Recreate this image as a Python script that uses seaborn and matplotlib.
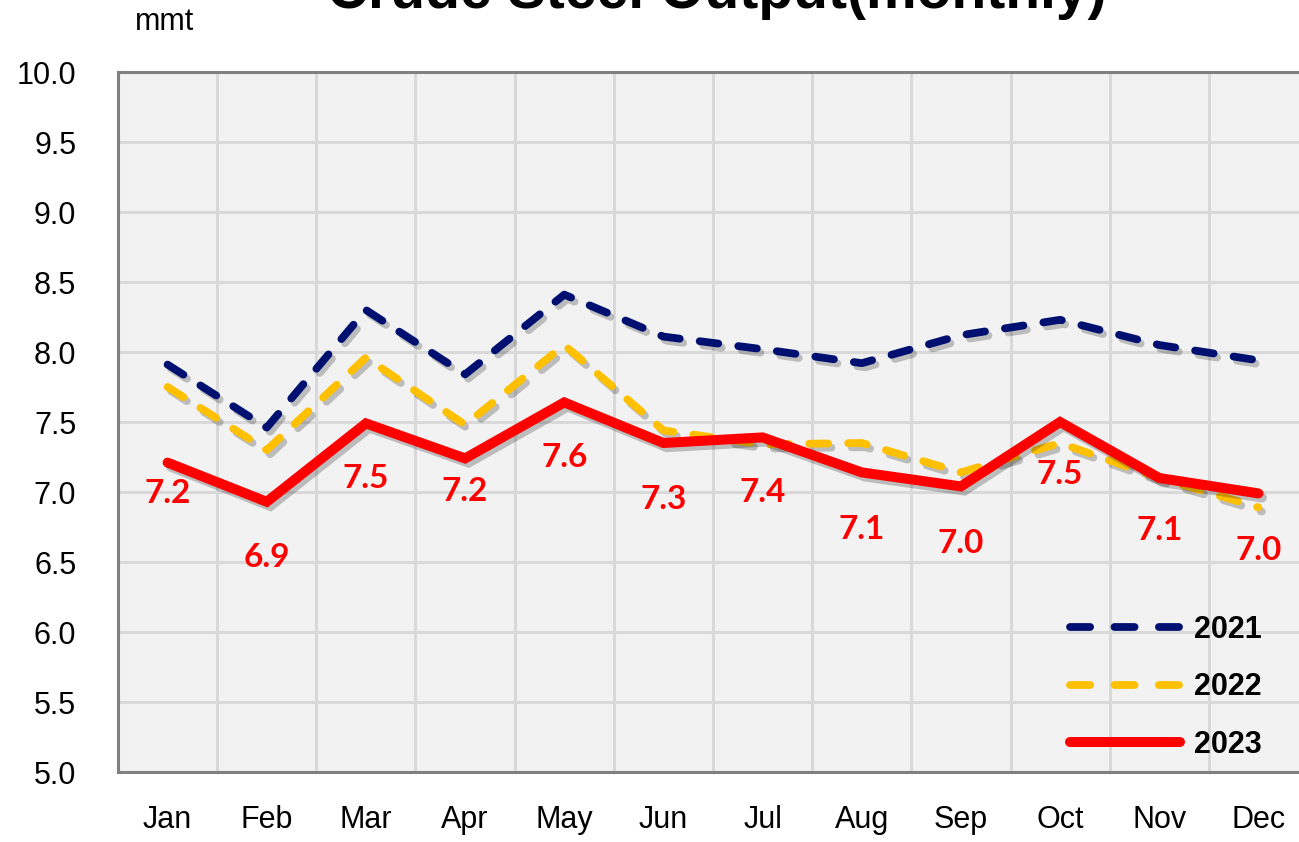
import matplotlib
matplotlib.use("Agg")
import pandas as pd
import seaborn as sns
from matplotlib import pyplot as plt
import matplotlib.patheffects as pe

months = ["Jan", "Feb", "Mar", "Apr", "May", "Jun", "Jul", "Aug", "Sep", "Oct", "Nov", "Dec"]
out_2021 = [7.91, 7.46, 8.30, 7.84, 8.41, 8.11, 8.02, 7.92, 8.12, 8.23, 8.05, 7.94]
out_2022 = [7.75, 7.30, 7.96, 7.48, 8.05, 7.44, 7.34, 7.35, 7.14, 7.35, 7.10, 6.89]
out_2023 = [7.21, 6.93, 7.49, 7.24, 7.64, 7.35, 7.39, 7.14, 7.04, 7.50, 7.10, 6.99]
years = ["2021", "2022", "2023"]
y_ticks = [5.0, 5.5, 6.0, 6.5, 7.0, 7.5, 8.0, 8.5, 9.0, 9.5, 10.0]

# label offsets below the 2023 points (points)
label_drop = [-22, -40, -40, -24, -40, -41, -40, -41, -41, -38, -38, -41]

sns.set_theme(style="white")
plt.rcParams["font.family"] = ["Liberation Sans", "DejaVu Sans"]
plt.rcParams["lines.scale_dashes"] = False
for key in ["text.color", "axes.labelcolor", "xtick.color", "ytick.color"]:
    plt.rcParams[key] = "black"

df = pd.DataFrame({
    "month": months * 3,
    "value": out_2021 + out_2022 + out_2023,
    "year": [y for y in years for _ in months],
})

fig = plt.figure(figsize=(12.99, 8.42), dpi=100)
ax = fig.add_axes([118 / 1299, 1 - 772 / 842, 1190 / 1299, 700 / 842])
ax.set_facecolor("#f2f2f2")

colors = {"2021": "#001070", "2022": "#ffc000", "2023": "#ff0000"}
widths = {"2021": 5.6, "2022": 5.6, "2023": 7.2}
shadow = [pe.SimpleLineShadow(offset=(2.5, -3), shadow_color="black", alpha=0.22), pe.Normal()]

for yr in years:
    sub = df[df["year"] == yr]
    sns.lineplot(data=sub, x="month", y="value", ax=ax, color=colors[yr],
                 linewidth=widths[yr], label=yr, sort=False)
    line = ax.lines[-1]
    line.set_path_effects(shadow)
    line.set_solid_capstyle("round")
    line.set_solid_joinstyle("miter")
    if yr != "2023":
        line.set_linestyle((0, (13.5, 14.5)))
        line.set_dash_capstyle("round")

for i, (m, v) in enumerate(zip(months, out_2023)):
    ax.annotate(f"{v:.1f}", (i, v), xytext=(0, label_drop[i]), textcoords="offset points",
                ha="center", va="center", color="#ff0000", fontsize=24,
                fontweight="bold", family=["Lato", "DejaVu Sans"])

ax.set_xlim(-0.5, 11.5)
ax.set_ylim(5.0, 10.0)
ax.set_yticks(y_ticks)
ax.set_yticklabels([f"{t:.1f}" for t in y_ticks])
ax.set_xticks([i + 0.5 for i in range(11)], minor=True)
ax.grid(True, which="major", axis="y", color="#d9d9d9", linewidth=2.2)
ax.grid(True, which="minor", axis="x", color="#d9d9d9", linewidth=2.2)
ax.tick_params(axis="both", which="both", length=0, labelsize=22)
ax.tick_params(axis="x", pad=24)
ax.tick_params(axis="y", pad=30)
ax.set_xlabel("")
ax.set_ylabel("")

for side in ["left", "top", "bottom"]:
    ax.spines[side].set_color("#808080")
    ax.spines[side].set_linewidth(2.2)
ax.spines["right"].set_visible(False)

leg = ax.legend(loc="lower right", bbox_to_anchor=(0.984, -0.022), frameon=False,
                handlelength=3.6, handletextpad=0.45, labelspacing=0.9,
                prop={"size": 22, "weight": "bold"})
for h in leg.get_lines():
    h.set_path_effects([])
    if h.get_label() != "2023":
        h.set_linestyle((0, (14.5, 17.5)))
        h.set_dash_capstyle("round")

fig.text(135 / 1299, 1 - 22 / 842, "mmt", fontsize=22, va="center", ha="left")
fig.text(717 / 1299, 1 - 8 / 842, "Crude Steel Output(monthly)", fontsize=41,
         fontweight="bold", ha="center", va="baseline")

fig.savefig("out.png", dpi=100)
